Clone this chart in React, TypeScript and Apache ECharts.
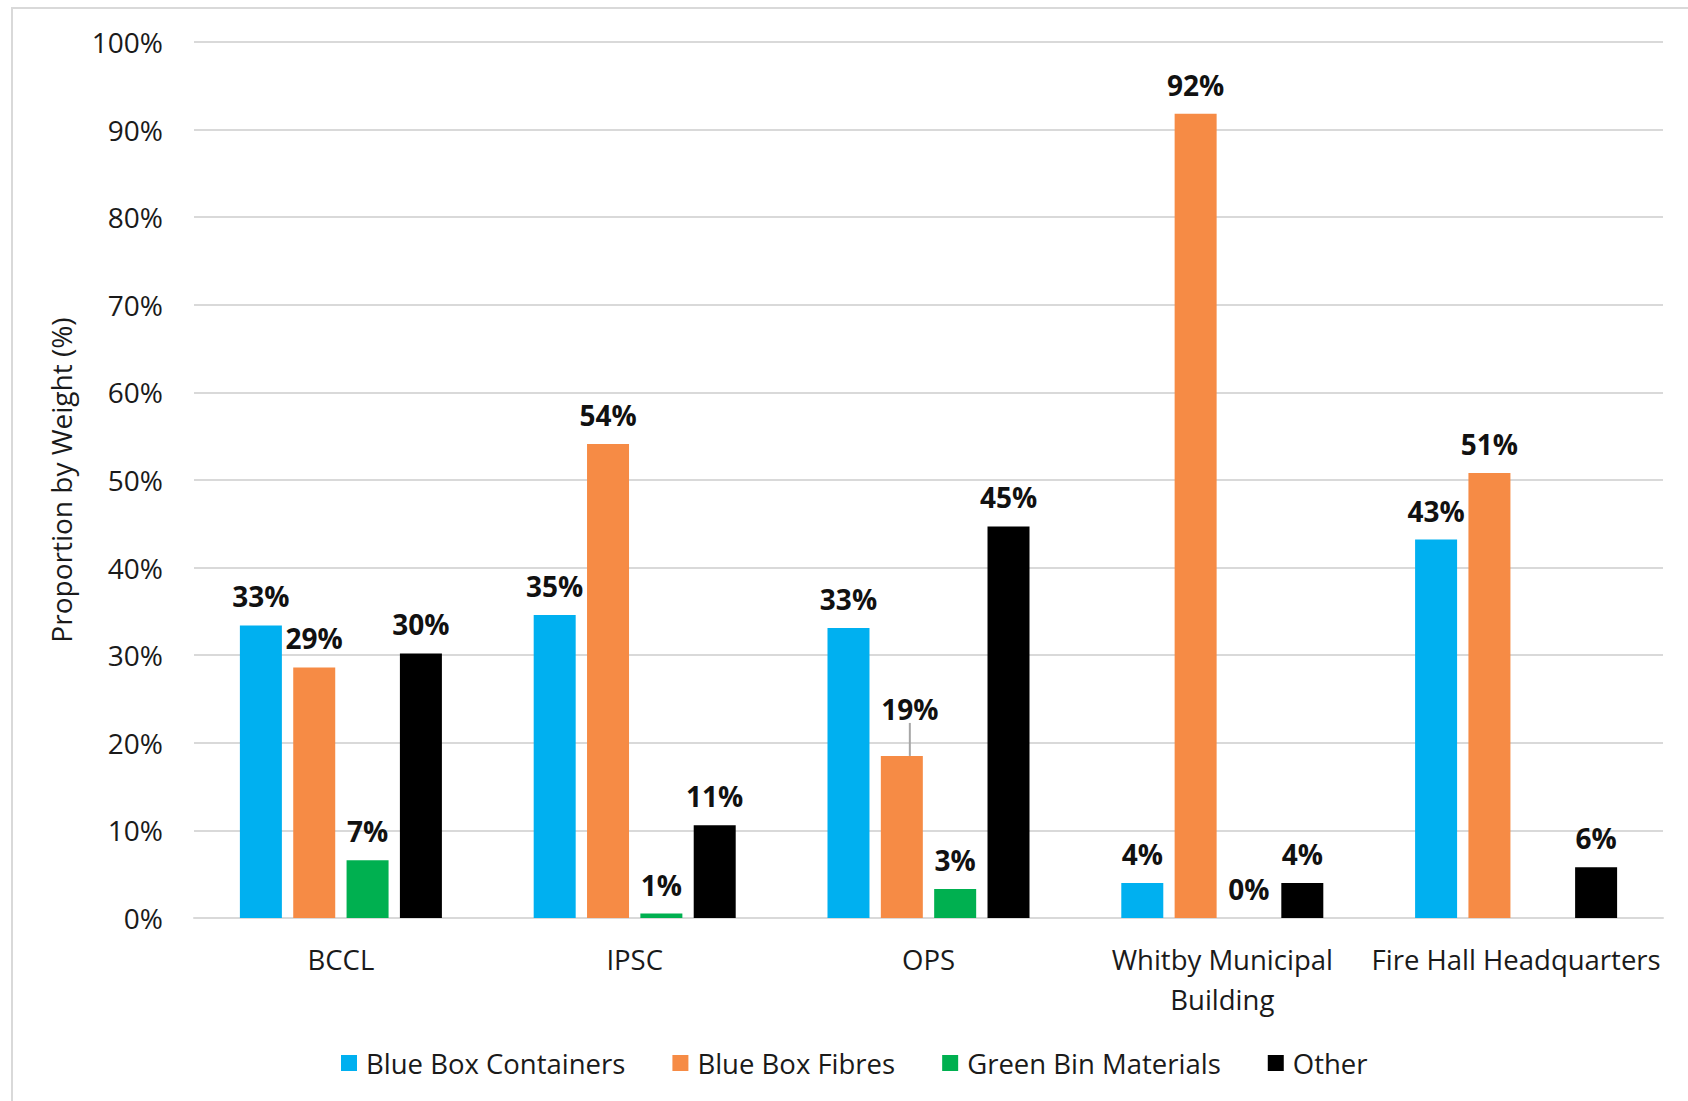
import React, { useEffect, useRef } from "react";
import * as echarts from "echarts";

const categories = ["BCCL", "IPSC", "OPS", "Whitby Municipal\nBuilding", "Fire Hall Headquarters"];
const seriesNames = ["Blue Box Containers", "Blue Box Fibres", "Green Bin Materials", "Other"];
const blueBoxContainers = [33.4, 34.6, 33.1, 4.0, 43.2];
const blueBoxFibres = [28.6, 54.1, 18.5, 91.8, 50.8];
const greenBinMaterials: (number | null)[] = [6.6, 0.5, 3.3, 0, null];
const other = [30.2, 10.6, 44.7, 4.0, 5.8];
const colors = ["#00B0F0", "#F68B45", "#00B050", "#000000"];
const yTicks = [0, 10, 20, 30, 40, 50, 60, 70, 80, 90, 100];

const FONT = "'Open Sans', 'Noto Sans', sans-serif";

export default function App() {
  const ref = useRef<HTMLDivElement>(null);
  useEffect(() => {
    if (!ref.current) return;
    const chart = echarts.init(ref.current, undefined, { renderer: "svg" });
    const allData = [blueBoxContainers, blueBoxFibres, greenBinMaterials, other];
    const series = allData.map((arr, si) => ({
      type: "bar",
      name: seriesNames[si],
      barWidth: 42,
      barGap: "27%",
      itemStyle: { color: colors[si] },
      label: {
        show: true,
        position: "top",
        distance: 15,
        fontFamily: FONT,
        fontWeight: "bold",
        fontSize: 28,
        color: "#111",
        formatter: (p: any) => Math.round(p.value) + "%",
      },
      labelLayout:
        si === 1
          ? (params: any) => {
              if (params.dataIndex !== 2) return {};
              const dx = 8;
              const dy = -18;
              const r = params.rect;
              const lr = params.labelRect;
              const sx = r.x + r.width / 2;
              const sy = r.y;
              const ex = lr.x + lr.width / 2 + dx;
              const ey = lr.y + lr.height + dy - 2;
              return {
                dx,
                dy,
                labelLinePoints: [
                  [sx, sy],
                  [(sx + ex) / 2, (sy + ey) / 2],
                  [ex, ey],
                ],
              };
            }
          : undefined,
      data: arr.map((v, i) => {
        if (v === null) return "-";
        if (si === 1 && i === 2) {
          return {
            value: v,
            labelLine: { show: true, lineStyle: { color: "#a6a6a6", width: 2 } },
          };
        }
        return v;
      }),
    }));
    chart.setOption({
      animation: false,
      backgroundColor: "#ffffff",
      graphic: [
        {
          type: "rect",
          shape: { x: 12, y: 8, width: 1720, height: 1200 },
          style: { fill: "none", stroke: "#d9d9d9", lineWidth: 2 },
          silent: true,
        },
      ],
      grid: { left: 194, right: 25, top: 42, bottom: 183 },
      legend: {
        data: seriesNames,
        left: 336,
        top: 1044,
        icon: "rect",
        itemWidth: 16,
        itemHeight: 16,
        itemGap: 47,
        textStyle: { fontFamily: FONT, fontSize: 27.5, color: "#1a1a1a", padding: [0, 0, 0, 4] },
      },
      xAxis: {
        type: "category",
        data: categories,
        axisTick: { show: false },
        axisLine: { lineStyle: { color: "#d9d9d9", width: 2 } },
        axisLabel: {
          interval: 0,
          margin: 21,
          fontFamily: FONT,
          fontSize: 27.5,
          lineHeight: 40,
          color: "#1a1a1a",
        },
      },
      yAxis: {
        type: "value",
        min: yTicks[0],
        max: yTicks[yTicks.length - 1],
        interval: 10,
        name: "Proportion by Weight (%)",
        nameLocation: "middle",
        nameGap: 119,
        nameRotate: 90,
        nameTextStyle: { fontFamily: FONT, fontSize: 28, color: "#1a1a1a" },
        axisLine: { show: false },
        axisTick: { show: false },
        splitLine: { lineStyle: { color: "#d9d9d9", width: 2 } },
        axisLabel: {
          margin: 31,
          fontFamily: FONT,
          fontSize: 28,
          color: "#1a1a1a",
          formatter: (v: number) => v + "%",
        },
      },
      series,
    } as any);
    return () => chart.dispose();
  }, []);
  return (
    <div
      ref={ref}
      style={{ position: "fixed", left: 0, top: 0, width: 1688, height: 1101 }}
    />
  );
}
